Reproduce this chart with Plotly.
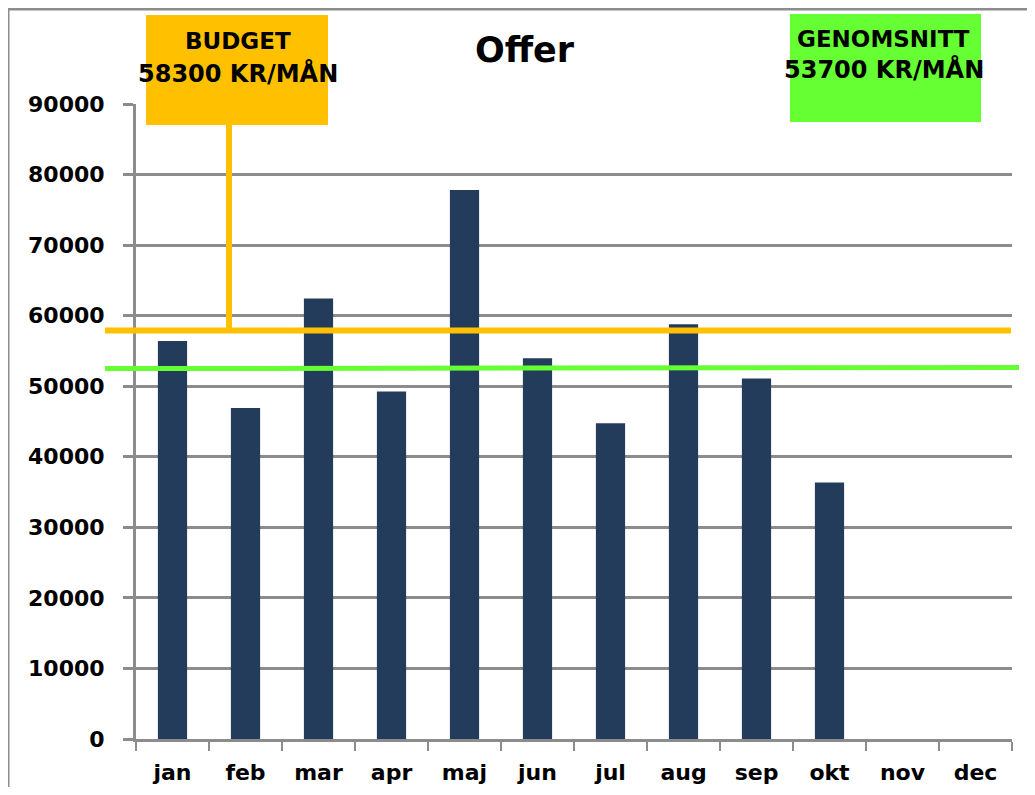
import plotly.graph_objects as go

months = ["jan", "feb", "mar", "apr", "maj", "jun", "jul", "aug", "sep", "okt", "nov", "dec"]
offer = [56400, 46900, 62450, 49250, 77800, 53950, 44750, 58800, 51100, 36350, None, None]
y_ticks = [0, 10000, 20000, 30000, 40000, 50000, 60000, 70000, 80000, 90000]

budget_label = ["BUDGET", "58300 KR/MÅN"]
avg_label = ["GENOMSNITT", "53700 KR/MÅN"]
budget_line = [57900, 57900]
avg_line = [52500, 52650]

# page has an 8px body margin; work in page pixels and convert
OFF = 8
W, H = 1035 - OFF, 795 - 2 * OFF
L, R, T, B = 136, 1012, 104, 739  # page pixel positions of plot area

def px(x):
    return (x - L) / (R - L)

def py(y):
    return (B - y) / (B - T)

FONT = "DejaVu Sans"
BAR = "#243C5C"
ORANGE = "#FFC000"
GREEN = "#66FF33"
GRID = "#8C8C8C"

fig = go.Figure()
fig.add_trace(go.Bar(x=months, y=offer, marker=dict(color=BAR, line=dict(width=0)),
                     width=0.4, showlegend=False))

shapes = []
# outer chart border
shapes.append(dict(type="rect", xref="paper", yref="paper", x0=px(8), x1=px(1100), y0=py(860), y1=py(9),
                   line=dict(color=GRID, width=3), fillcolor="rgba(0,0,0,0)", layer="below"))
# budget connector from box bottom to budget line
shapes.append(dict(type="line", xref="paper", yref="y", x0=px(229), x1=px(229),
                   y0=budget_line[0], y1=90000 * (B - 125) / (B - T),
                   line=dict(color=ORANGE, width=6), layer="above"))
shapes.append(dict(type="rect", xref="paper", yref="paper", x0=px(146), x1=px(328), y0=py(125), y1=py(15),
                   line=dict(width=0), fillcolor=ORANGE, layer="above"))
shapes.append(dict(type="rect", xref="paper", yref="paper", x0=px(790), x1=px(981), y0=py(122), y1=py(14),
                   line=dict(width=0), fillcolor=GREEN, layer="above"))
# budget and average lines
shapes.append(dict(type="line", xref="paper", yref="y", x0=px(105), x1=px(1011), y0=budget_line[0], y1=budget_line[1],
                   line=dict(color=ORANGE, width=6), layer="above"))
shapes.append(dict(type="line", xref="paper", yref="y", x0=px(105), x1=px(1019), y0=avg_line[0], y1=avg_line[1],
                   line=dict(color=GREEN, width=5), layer="above"))

annotations = [
    dict(text="<b>Offer</b>", xref="paper", yref="paper", x=px(525), y=py(50), showarrow=False,
         font=dict(family=FONT, size=35, color="black"), xanchor="center", yanchor="middle"),
    dict(text="<b>" + budget_label[0] + "</b>", xref="paper", yref="paper", x=px(238), y=py(41), showarrow=False,
         font=dict(family=FONT, size=23, color="black"), xanchor="center", yanchor="middle"),
    dict(text="<b>" + budget_label[1] + "</b>", xref="paper", yref="paper", x=px(238), y=py(73), showarrow=False,
         font=dict(family=FONT, size=24, color="black"), xanchor="center", yanchor="middle"),
    dict(text="<b>" + avg_label[0] + "</b>", xref="paper", yref="paper", x=px(883), y=py(39), showarrow=False,
         font=dict(family=FONT, size=23, color="black"), xanchor="center", yanchor="middle"),
    dict(text="<b>" + avg_label[1] + "</b>", xref="paper", yref="paper", x=px(884), y=py(70), showarrow=False,
         font=dict(family=FONT, size=24, color="black"), xanchor="center", yanchor="middle"),
]

fig.update_layout(
    width=W, height=H, autosize=False,
    margin=dict(l=L - OFF, r=W - (R - OFF), t=T - OFF, b=H - (B - OFF), pad=0, autoexpand=False),
    paper_bgcolor="white", plot_bgcolor="white",
    shapes=shapes, annotations=annotations,
    xaxis=dict(type="category", categoryorder="array", categoryarray=months,
               range=[-0.5, 11.5], showline=True, linecolor=GRID, linewidth=3,
               ticks="outside", tickson="boundaries", ticklen=9, tickwidth=2, tickcolor=GRID,
               showgrid=False, ticklabelstandoff=12, automargin=False,
               tickfont=dict(family=FONT, size=22, color="black", weight="bold")),
    yaxis=dict(range=[0, 90000], tickvals=y_ticks, ticktext=[str(v) for v in y_ticks],
               showline=True, linecolor=GRID, linewidth=3,
               ticks="outside", ticklen=10, tickwidth=3, tickcolor=GRID,
               showgrid=True, gridcolor=GRID, gridwidth=3, zeroline=False,
               ticklabelstandoff=14, automargin=False,
               tickfont=dict(family=FONT, size=22, color="black", weight="bold")),
)

fig.write_html("out.html")
